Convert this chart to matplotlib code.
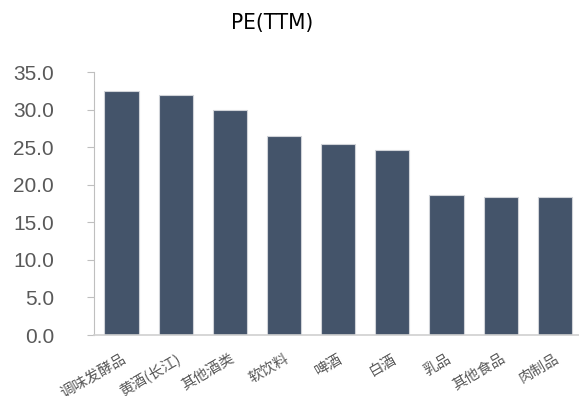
#!/usr/bin/env python3

import matplotlib.pyplot as plt
from matplotlib.ticker import FuncFormatter

# Sub-industry PE (TTM)
categories = ["调味发酵品", "黄酒(长江)", "其他酒类", "软饮料", "啤酒", "白酒", "乳品", "其他食品", "肉制品"]
pe_ttm = [32.5, 32.0, 29.9, 26.5, 25.4, 24.6, 18.7, 18.4, 18.4]
yticks = [0, 5, 10, 15, 20, 25, 30, 35]

BAR = "#44546A"
GREY = "#595959"

fig = plt.figure(figsize=(5.79, 3.96), dpi=100)
ax = fig.add_axes([0.163, 0.154, 0.842, 0.664])

x = range(len(categories))
ax.bar(x, pe_ttm, width=0.63, color=BAR, edgecolor="#D0D3D8", linewidth=0.8)

ax.set_xlim(-0.5, len(categories) - 0.5)
ax.set_ylim(0, 35)
ax.set_yticks(yticks)
ax.yaxis.set_major_formatter(FuncFormatter(lambda v, p: f"{v:.1f}"))

# Axis styling
for side in ["top", "right"]:
    ax.spines[side].set_visible(False)
ax.spines["left"].set_color("#BFBFBF")
ax.spines["bottom"].set_color("#D0D0D0")
ax.spines["bottom"].set_linewidth(1.2)

ax.tick_params(axis="y", direction="out", length=5, color="#BFBFBF", pad=24,
               labelsize=15, labelcolor=GREY)
for lbl in ax.get_yticklabels():
    lbl.set_family(["Liberation Sans", "DejaVu Sans"])

ax.set_xticks(list(x))
ax.set_xticklabels(categories, rotation=30, ha="right", va="top",
                   rotation_mode="anchor", fontsize=10.5, color=GREY,
                   family=["Noto Sans CJK SC", "DejaVu Sans"])
ax.tick_params(axis="x", length=0, pad=12)

# Title
fig.text(272 / 579, 1 - 23 / 396, "PE(TTM)", ha="center", va="center",
         fontsize=16, color="black", fontstretch="condensed",
         family=["DejaVu Sans", "Liberation Sans"])

fig.savefig("out.png", dpi=100)
